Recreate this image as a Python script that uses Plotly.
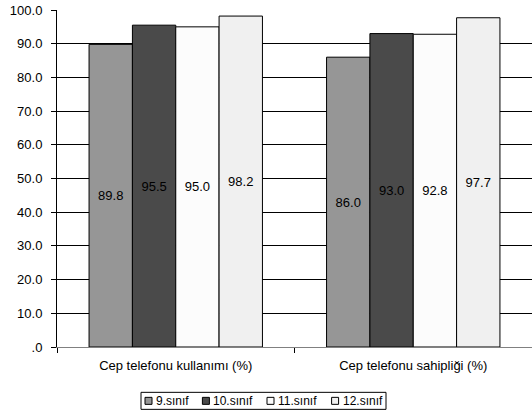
import plotly.graph_objects as go

# ---- data ----
categories = ["Cep telefonu kullanımı (%)", "Cep telefonu sahipliği (%)"]
series_names = ["9.sınıf", "10.sınıf", "11.sınıf", "12.sınıf"]
grade9 = [89.8, 86.0]
grade10 = [95.5, 93.0]
grade11 = [95.0, 92.8]
grade12 = [98.2, 97.7]
tick_vals = [0, 10, 20, 30, 40, 50, 60, 70, 80, 90, 100]
tick_text = [".0", "10.0", "20.0", "30.0", "40.0", "50.0", "60.0", "70.0", "80.0", "90.0", "100.0"]

series_values = [grade9, grade10, grade11, grade12]
colors = ["#969696", "#4a4a4a", "#fcfcfc", "#f0f0f0"]

FONT = "Liberation Sans, Arial, sans-serif"
W, H = 532, 418
ML, MR, MT, MB = 57, 0, 10, 71.3
PW = W - ML - MR
PH = H - MT - MB


def px_x(x):
    return (x - ML) / PW


def px_y(y):
    return (H - MB - y) / PH


fig = go.Figure()
for name, vals, col in zip(series_names, series_values, colors):
    fig.add_trace(go.Bar(
        x=categories, y=vals, name=name,
        marker=dict(color=col, line=dict(color="#000000", width=1)),
        text=[f"{v:.1f}" for v in vals],
        textposition="inside", insidetextanchor="middle",
        textangle=0, constraintext="none",
        textfont=dict(family=FONT, size=13, color="#000000"),
        showlegend=False, hoverinfo="skip",
    ))

fig.update_layout(
    width=W, height=H,
    margin=dict(l=ML, r=MR, t=MT, b=MB, pad=0, autoexpand=False),
    barmode="group", bargap=0.27, bargroupgap=0,
    plot_bgcolor="#ffffff", paper_bgcolor="#ffffff",
    font=dict(family=FONT, size=13, color="#000000"),
    showlegend=False,
)
fig.update_yaxes(
    range=[0, 100], tickvals=tick_vals, ticktext=tick_text,
    showgrid=True, gridcolor="#000000", gridwidth=1,
    ticks="outside", ticklen=5, tickcolor="#000000", tickwidth=1,
    showline=True, linecolor="#000000", linewidth=1,
    zeroline=False, ticklabelstandoff=6, automargin=False,
    tickfont=dict(family=FONT, size=13, color="#000000"),
)
fig.update_xaxes(
    showline=True, linecolor="#808080", linewidth=1,
    ticks="outside", tickson="boundaries", ticklen=5, tickcolor="#000000",
    ticklabelstandoff=6, automargin=False,
    tickfont=dict(family=FONT, size=13, color="#000000"),
)

# ---- manual legend (Excel-style compact) ----
box_x0, box_x1, box_y0, box_y1 = 141, 386, 392, 409
fig.add_shape(type="rect", xref="paper", yref="paper",
              x0=px_x(box_x0), x1=px_x(box_x1), y0=px_y(box_y1), y1=px_y(box_y0),
              line=dict(color="#000000", width=1), fillcolor="#ffffff")
text_w = [35.4, 42.6, 42.6, 42.6]
x = box_x0 + 4
yc = (box_y0 + box_y1) / 2
for name, col, tw in zip(series_names, colors, text_w):
    fig.add_shape(type="rect", xref="paper", yref="paper",
                  x0=px_x(x), x1=px_x(x + 7), y0=px_y(yc + 3.5), y1=px_y(yc - 3.5),
                  line=dict(color="#000000", width=1), fillcolor=col)
    fig.add_annotation(xref="paper", yref="paper", x=px_x(x + 9), y=px_y(yc),
                       text=name, showarrow=False, xanchor="left", yanchor="middle",
                       font=dict(family=FONT, size=12, color="#000000"))
    x += 7 + 3 + tw + 12

fig.write_html(
    "out.html",
    config={"displayModeBar": False},
    post_script="document.body.style.margin='0';document.body.style.overflow='hidden';",
)
